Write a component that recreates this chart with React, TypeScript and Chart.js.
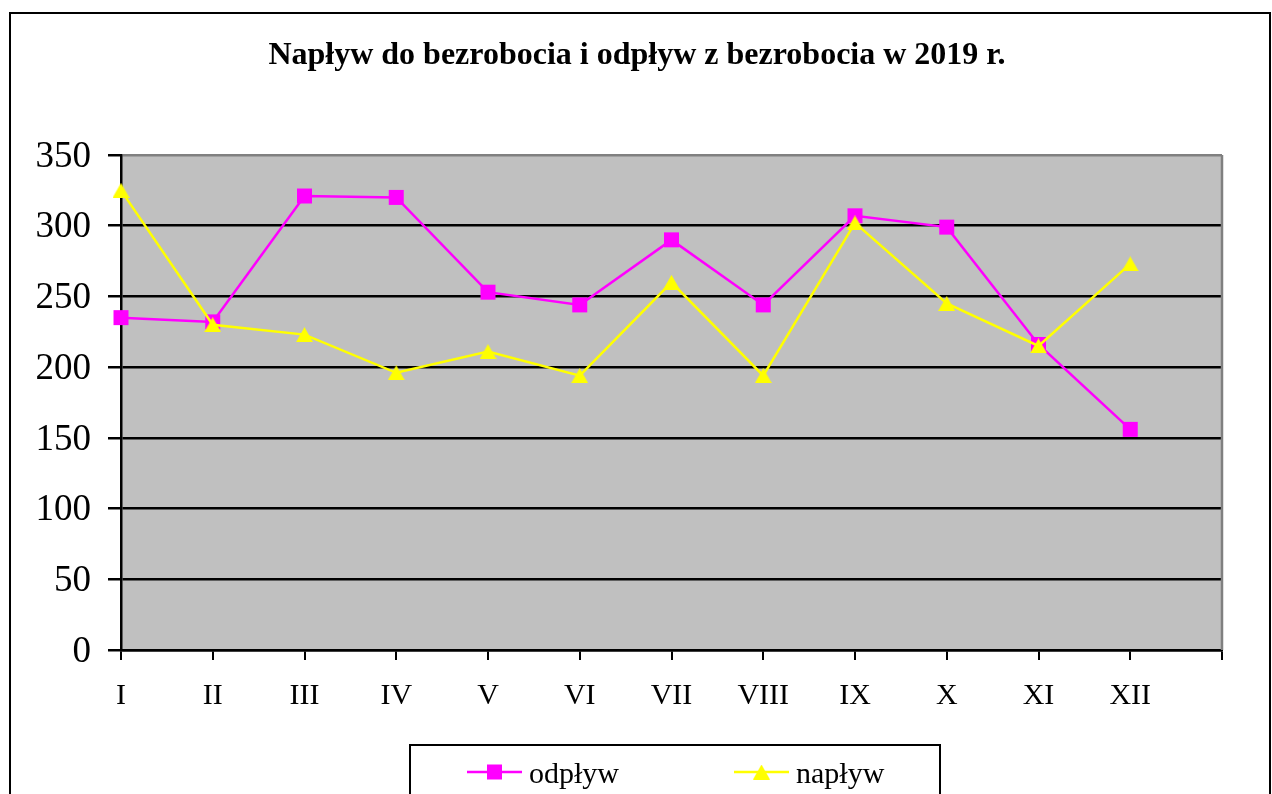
import React, { useEffect, useRef } from "react";
import { Chart, registerables } from "chart.js";

Chart.register(...registerables);

const TITLE = "Napływ do bezrobocia i odpływ z bezrobocia w 2019 r.";
const MONTHS = ["I", "II", "III", "IV", "V", "VI", "VII", "VIII", "IX", "X", "XI", "XII"];
const AXIS_LABELS = [...MONTHS, ""];
const SERIES_NAMES = ["odpływ", "napływ"];
const ODPLYW = [235, 232, 321, 320, 253, 244, 290, 244, 307, 299, 216, 156];
const NAPLYW = [325, 230, 223, 196, 211, 194, 260, 194, 302, 245, 215, 273];
const Y_MIN = 0;
const Y_MAX = 350;
const Y_STEP = 50;

const FONT = "'Liberation Serif', 'Times New Roman', Times, serif";
const MAGENTA = "#FF00FF";
const YELLOW = "#FFFF00";

export default function App() {
  const ref = useRef<HTMLCanvasElement>(null);

  useEffect(() => {
    const canvas = ref.current;
    if (!canvas) return;

    const tri = document.createElement("canvas");
    tri.width = 17;
    tri.height = 15;
    const tc = tri.getContext("2d")!;
    tc.fillStyle = YELLOW;
    tc.beginPath();
    tc.moveTo(8.5, 0);
    tc.lineTo(17, 15);
    tc.lineTo(0, 15);
    tc.closePath();
    tc.fill();

    const deco = {
      id: "deco",
      beforeDraw(chart: any) {
        const { ctx, chartArea: a } = chart;
        ctx.save();
        ctx.fillStyle = "#ffffff";
        ctx.fillRect(0, 0, chart.width, chart.height);
        ctx.fillStyle = "#C0C0C0";
        ctx.fillRect(a.left, a.top, a.right - a.left, a.bottom - a.top);
        ctx.restore();
      },
      beforeDatasetsDraw(chart: any) {
        const { ctx, chartArea: a } = chart;
        ctx.save();
        ctx.strokeStyle = "#808080";
        ctx.lineWidth = 2.5;
        ctx.beginPath();
        ctx.moveTo(a.right, a.top);
        ctx.lineTo(a.right, a.bottom);
        ctx.stroke();
        ctx.restore();
      },
      afterDraw(chart: any) {
        const { ctx } = chart;
        ctx.save();
        // outer frame
        ctx.strokeStyle = "#000";
        ctx.lineWidth = 2;
        ctx.strokeRect(10, 13, 1260, 900);
        // title
        ctx.fillStyle = "#000";
        ctx.font = `bold 32px ${FONT}`;
        ctx.textAlign = "center";
        ctx.textBaseline = "alphabetic";
        ctx.fillText(TITLE, 637, 64);
        // legend box
        ctx.lineWidth = 2;
        ctx.strokeRect(410, 745, 530, 200);
        // legend items
        const items = [
          { x: 467, ds: chart.data.datasets[0] },
          { x: 734, ds: chart.data.datasets[1] },
        ];
        const ly = 772;
        items.forEach((it, i) => {
          ctx.strokeStyle = it.ds.borderColor;
          ctx.lineWidth = 2.5;
          ctx.beginPath();
          ctx.moveTo(it.x, ly);
          ctx.lineTo(it.x + 55, ly);
          ctx.stroke();
          const cx = it.x + 27.5;
          if (i === 0) {
            ctx.fillStyle = it.ds.backgroundColor;
            ctx.fillRect(cx - 7.5, ly - 7.5, 15, 15);
          } else {
            ctx.drawImage(tri, cx - 8.5, ly - 7.5);
          }
          ctx.fillStyle = "#000";
          ctx.font = `30px ${FONT}`;
          ctx.textAlign = "left";
          ctx.fillText(it.ds.label, it.x + 62, 783);
        });
        ctx.restore();
      },
    };

    const chart = new Chart(canvas, {
      type: "line",
      data: {
        labels: AXIS_LABELS,
        datasets: [
          {
            label: SERIES_NAMES[0],
            data: ODPLYW,
            borderColor: MAGENTA,
            backgroundColor: MAGENTA,
            borderWidth: 2.5,
            pointStyle: "rect",
            pointRadius: 10.6,
            pointHoverRadius: 10.6,
            pointBorderWidth: 0,
            tension: 0,
            clip: false as any,
            order: 1,
          },
          {
            label: SERIES_NAMES[1],
            data: NAPLYW,
            borderColor: YELLOW,
            backgroundColor: YELLOW,
            borderWidth: 2.5,
            pointStyle: tri as any,
            pointRadius: 9,
            pointHoverRadius: 9,
            pointBorderWidth: 0,
            tension: 0,
            clip: false as any,
            order: 0,
          },
        ],
      },
      options: {
        responsive: false,
        devicePixelRatio: 1,
        animation: false,
        layout: { padding: { left: 0, top: 155, right: 50, bottom: 0 } },
        plugins: {
          legend: { display: false },
          title: { display: false },
          tooltip: { enabled: false },
        },
        events: [],
        scales: {
          x: {
            type: "category",
            offset: false,
            afterFit(scale: any) {
              scale.height = 144;
            },
            grid: {
              drawOnChartArea: false,
              drawTicks: true,
              tickLength: 10,
              tickColor: "#000",
              lineWidth: 2,
              color: "#000",
            },
            border: { display: true, color: "#000", width: 2.5 },
            ticks: {
              autoSkip: false,
              maxRotation: 0,
              minRotation: 0,
              color: "#000",
              padding: 18,
              font: { family: FONT, size: 30 },
            },
          },
          y: {
            min: Y_MIN,
            max: Y_MAX,
            afterFit(scale: any) {
              scale.width = 121;
            },
            grid: {
              drawOnChartArea: true,
              drawTicks: true,
              tickLength: 13,
              tickColor: "#000",
              lineWidth: 2.5,
              color: (c: any) => (c.tick && c.tick.value === Y_MAX ? "#808080" : "#000"),
            },
            border: { display: true, color: "#000", width: 2.5 },
            ticks: {
              stepSize: Y_STEP,
              color: "#000",
              padding: 17,
              labelOffset: 2,
              font: { family: FONT, size: 37 },
            },
          },
        },
      },
      plugins: [deco],
    });

    return () => chart.destroy();
  }, []);

  return (
    <canvas
      ref={ref}
      width={1272}
      height={794}
      style={{ position: "fixed", left: 0, top: 0, display: "block" }}
    />
  );
}
